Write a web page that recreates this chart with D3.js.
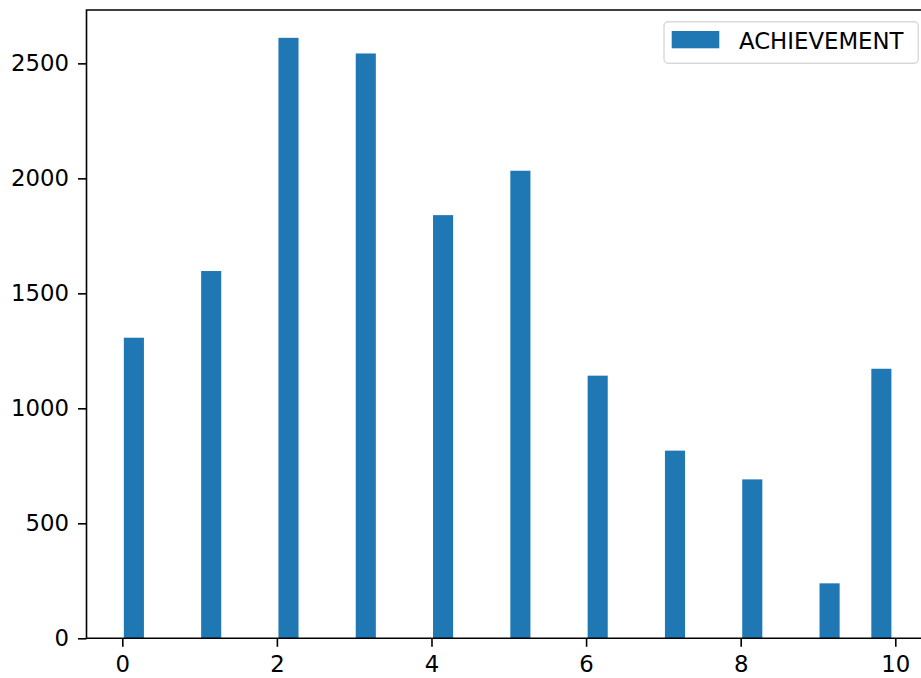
<!DOCTYPE html>
<html>
<head>
<meta charset="utf-8">
<script src="https://cdn.jsdelivr.net/npm/d3@7"></script>
<style>
  body { margin: 0; background: #fff; }
  svg { display: block; }
  text { font-family: "DejaVu Sans", sans-serif; fill: #000; }
</style>
</head>
<body>
<div id="chart"></div>
<script>
// histogram bins (left edge in data units) and counts
let binStarts = [0.02, 1.02, 2.02, 3.02, 4.02, 5.02, 6.02, 7.02, 8.02, 9.02, 9.69];
let binWidth = 0.26;
let counts = [1307, 1597, 2611, 2543, 1840, 2033, 1142, 816, 691, 239, 1172];
let xTicks = [0, 2, 4, 6, 8, 10];
let yTicks = [0, 500, 1000, 1500, 2000, 2500];
let seriesName = "ACHIEVEMENT";

let svgWidth = 921;
let svgHeight = 678;
let fontSize = 22.8;

let plot = { left: 86.5, top: 10, bottom: 638.3 };

let svg = d3.select("#chart")
  .append("svg")
  .attr("width", svgWidth)
  .attr("height", svgHeight);

let xScale = d3.scaleLinear()
  .domain([-0.463, 10.45])
  .range([plot.left, plot.left + 10.913 * 77.3]);

let yScale = d3.scaleLinear()
  .domain([0, 2732])
  .range([plot.bottom, plot.top]);

let bins = binStarts.map((x0, i) => ({ x0: x0, x1: x0 + binWidth, n: counts[i] }));

// bars
svg.append("g")
  .selectAll("rect")
  .data(bins)
  .enter()
  .append("rect")
  .attr("x", d => xScale(d.x0))
  .attr("width", d => xScale(d.x1) - xScale(d.x0))
  .attr("y", d => yScale(d.n))
  .attr("height", d => yScale(0) - yScale(d.n))
  .attr("fill", "#1f77b4");

// axes
let bottomAxis = d3.axisBottom(xScale)
  .tickValues(xTicks)
  .tickFormat(d3.format("d"))
  .tickSize(8.5)
  .tickPadding(9)
  .tickSizeOuter(0);

let leftAxis = d3.axisLeft(yScale)
  .tickValues(yTicks)
  .tickFormat(d3.format("d"))
  .tickSize(8.5)
  .tickPadding(9)
  .tickSizeOuter(0);

let xAxisG = svg.append("g")
  .attr("transform", `translate(0, ${plot.bottom})`)
  .call(bottomAxis);

let yAxisG = svg.append("g")
  .attr("transform", `translate(${plot.left}, 0)`)
  .call(leftAxis);

[xAxisG, yAxisG].forEach(g => {
  g.select(".domain").remove();
  g.selectAll("line").attr("stroke", "#000").attr("stroke-width", 1.6);
  g.selectAll("text").attr("font-size", fontSize).attr("font-family", "DejaVu Sans").attr("fill", "#1a1a1a");
});

// frame (right spine falls outside the window)
svg.append("path")
  .attr("d", `M${svgWidth + 5},${plot.top}H${plot.left}V${plot.bottom}H${svgWidth + 5}`)
  .attr("fill", "none")
  .attr("stroke", "#000")
  .attr("stroke-width", 1.6);

// legend
let legend = svg.append("g");
legend.append("rect")
  .attr("x", 664)
  .attr("y", 21.7)
  .attr("width", 254.3)
  .attr("height", 41.6)
  .attr("rx", 4)
  .attr("fill", "#fff")
  .attr("fill-opacity", 0.8)
  .attr("stroke", "#d9d9d9")
  .attr("stroke-width", 1.4);
legend.append("rect")
  .attr("x", 671.7)
  .attr("y", 31)
  .attr("width", 47.6)
  .attr("height", 17.3)
  .attr("fill", "#1f77b4");
legend.append("text")
  .attr("x", 739)
  .attr("y", 49.3)
  .attr("font-size", fontSize)
  .attr("fill", "#1a1a1a")
  .text(seriesName);
</script>
</body>
</html>
